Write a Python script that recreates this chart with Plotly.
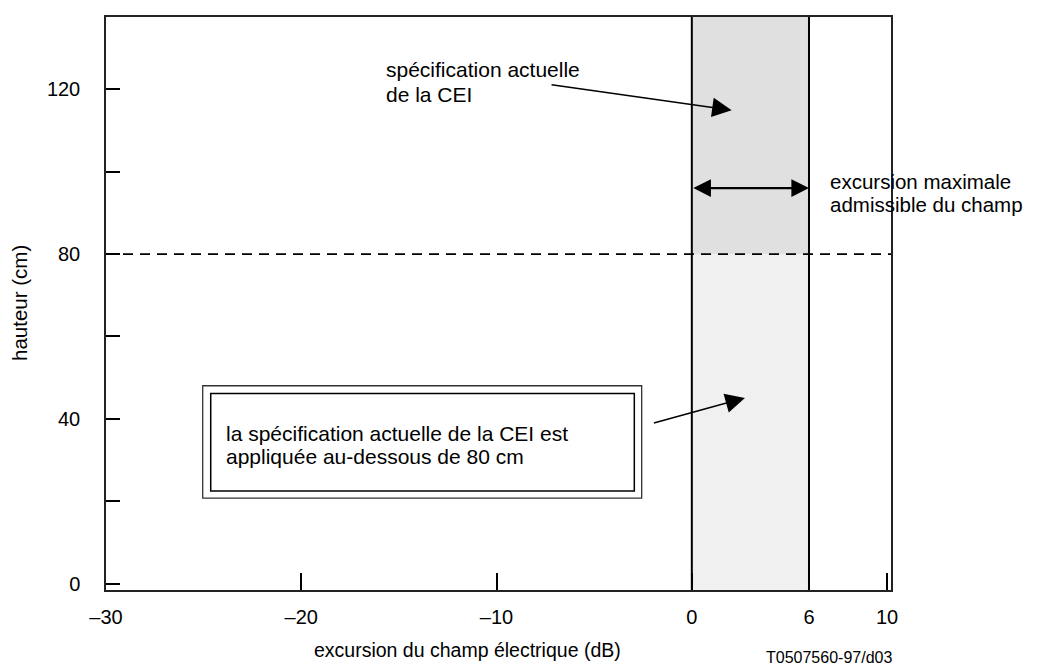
import plotly.graph_objects as go

# ---- data ----
x_tick_vals = [-30, -20, -10, 0, 6, 10]
x_tick_text = ["–30", "–20", "–10", "0", "6", "10"]
y_tick_vals = [0, 20, 40, 60, 80, 100, 120]
y_tick_text = ["0", "", "40", "", "80", "", "120"]
band_x = [0, 6]            # permitted field excursion (dB)
height_limit = 80          # cm
arrow_height = 96          # height of the double arrow (cm)
x_range = [-30, 10.2]
y_range = [-1.5, 137.5]

FONT = "Liberation Sans, Arial, sans-serif"
fig = go.Figure()

# invisible trace to set up axes
fig.add_trace(go.Scatter(x=[x_range[0], x_range[1]], y=[0, 0], mode="markers",
                         marker=dict(opacity=0), hoverinfo="skip", showlegend=False))

shapes = []
# shaded band: lower part (below 80 cm) and upper part
shapes.append(dict(type="rect", xref="x", yref="y", x0=band_x[0], x1=band_x[1],
                   y0=y_range[0], y1=height_limit, fillcolor="#f0f0f0",
                   line=dict(width=0), layer="below"))
shapes.append(dict(type="rect", xref="x", yref="y", x0=band_x[0], x1=band_x[1],
                   y0=height_limit, y1=y_range[1], fillcolor="#e0e0e0",
                   line=dict(width=0), layer="below"))
# vertical band edges
for bx in band_x:
    shapes.append(dict(type="line", xref="x", yref="paper", x0=bx, x1=bx, y0=0, y1=1,
                       line=dict(color="black", width=2)))
# dashed 80 cm line
shapes.append(dict(type="line", xref="paper", yref="y", x0=0, x1=1,
                   y0=height_limit, y1=height_limit,
                   line=dict(color="black", width=1.8, dash="10px,7px")))
# double-framed text box
shapes.append(dict(type="rect", xref="paper", yref="paper", x0=0.1232, x1=0.6824,
                   y0=0.1605, y1=0.3565, line=dict(color="#333333", width=1.3)))
shapes.append(dict(type="rect", xref="paper", yref="paper", x0=0.1334, x1=0.6730,
                   y0=0.1727, y1=0.3431, line=dict(color="black", width=1.5)))

ann = []
def txt(text, x, y, xanchor="left", size=21, textangle=0):
    ann.append(dict(text=text, xref="paper", yref="paper", x=x, y=y, xanchor=xanchor,
                    yanchor="middle", showarrow=False, textangle=textangle, borderpad=0,
                    font=dict(family=FONT, size=size, color="black")))

txt("spécification actuelle", 0.3554, 0.9078)
txt("de la CEI", 0.3554, 0.8643)
txt("la spécification actuelle de la CEI est", 0.1516, 0.2730)
txt("appliquée au-dessous de 80 cm", 0.1516, 0.2330)
txt("excursion maximale", 0.9210, 0.7130, size=20.5)
txt("admissible du champ", 0.9210, 0.6730, size=20.5)
txt("excursion du champ électrique (dB)", 0.4602, -0.1043, xanchor="center", size=19.5)
txt("T0507560-97/d03", 1.0025, -0.1183, xanchor="right", size=16)
txt("hauteur (cm)", -0.1096, 0.5009, xanchor="center", size=20.5, textangle=-90)

# arrows
def arrow(x_tail, y_tail, x_tip, y_tip, side="end", width=1.5, size=2.6):
    ann.append(dict(x=x_tip, y=y_tip, ax=x_tail, ay=y_tail, xref="x", yref="y",
                    axref="x", ayref="y", text="", showarrow=True, arrowhead=2,
                    arrowside=side, arrowsize=size, arrowwidth=width, arrowcolor="black",
                    standoff=0, startstandoff=0))

arrow(-7.26, 121.1, 2.04, 114.9)
arrow(-2.02, 38.9, 2.72, 45.1)
arrow(band_x[0], arrow_height, band_x[1], arrow_height, side="end+start", width=2.2, size=1.6)

# the page body adds an 8 px offset; compensate so the plot lands in place
fig.update_layout(
    width=1029, height=661,
    margin=dict(l=98, r=146, t=7, b=79),
    paper_bgcolor="white", plot_bgcolor="white",
    showlegend=False,
    shapes=shapes, annotations=ann,
    font=dict(family=FONT, size=20, color="black"),
    xaxis=dict(range=x_range, tickvals=x_tick_vals, ticktext=x_tick_text,
               ticks="inside", ticklen=17, tickwidth=2, tickcolor="black",
               showline=True, linecolor="#222222", linewidth=1.5, mirror=True,
               showgrid=False, zeroline=False, ticklabelstandoff=8,
               tickfont=dict(family=FONT, size=20, color="black")),
    yaxis=dict(range=y_range, tickvals=y_tick_vals, ticktext=y_tick_text,
               ticks="inside", ticklen=14, tickwidth=2, tickcolor="black",
               showline=True, linecolor="#222222", linewidth=1.5, mirror=True,
               showgrid=False, zeroline=False, ticklabelstandoff=20,
               tickfont=dict(family=FONT, size=20, color="black")),
)

fig.write_html("out.html")
